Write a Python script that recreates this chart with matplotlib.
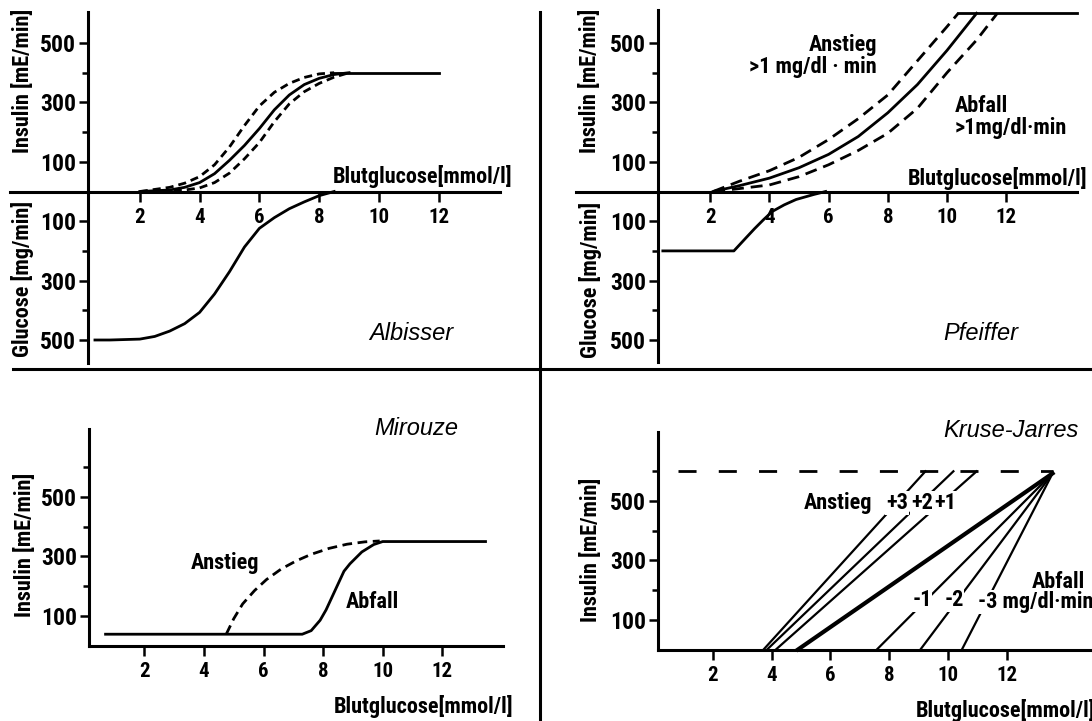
import matplotlib
matplotlib.use("Agg")
import matplotlib.pyplot as plt
import matplotlib.font_manager as fm
from matplotlib.lines import Line2D

W, H = 1092, 721

# pick a narrow bold face if one is installed, like the condensed type in the scan
installed = [(f.name, f.stretch) for f in fm.fontManager.ttflist]
prefs = ["Liberation Sans Narrow", "Roboto Condensed", "Open Sans Condensed",
         "DejaVu Sans Condensed"]
NARROW = None
for name in prefs:
    if any(n == name for n, _ in installed):
        NARROW = (name, "normal")
        break
if NARROW is None and any(n == "DejaVu Sans" and s == "condensed" for n, s in installed):
    NARROW = ("DejaVu Sans", "condensed")
if NARROW is None:
    NARROW = ("Liberation Sans", "normal")

plt.rcParams["font.family"] = [NARROW[0], "DejaVu Sans"]
plt.rcParams["font.stretch"] = NARROW[1]
plt.rcParams["font.weight"] = "bold"
plt.rcParams["lines.scale_dashes"] = False
SHRINK = 1.0 if NARROW[0] != "Liberation Sans" else 0.88

# Albisser: insulin (three curves) and glucose infusion
alb_x = [2.0, 3.0, 3.5, 4.0, 4.5, 5.0, 5.5, 6.0, 6.5, 7.0, 7.5, 8.0, 8.5, 9.0]
alb_ins = [0, 5, 14, 30, 60, 105, 155, 212, 275, 325, 360, 381, 394, 400]
alb_hi_x = [2.0, 3.0, 3.5, 4.0, 4.5, 5.0, 5.5, 6.0, 6.5, 7.0, 7.5, 8.0, 8.5]
alb_hi = [0, 14, 28, 50, 90, 150, 222, 288, 334, 364, 384, 396, 400]
alb_lo_x = [2.7, 3.5, 4.0, 4.5, 5.0, 5.5, 6.0, 6.5, 7.0, 7.5, 8.0, 8.5, 9.0]
alb_lo = [0, 5, 12, 30, 62, 110, 165, 235, 295, 336, 364, 385, 400]
alb_plateau_x = [8.5, 12.0]
alb_plateau = [400, 400]
alb_glu_x = [0.5, 1.0, 2.0, 2.5, 3.0, 3.5, 4.0, 4.5, 5.0, 5.5, 6.0, 6.5, 7.0, 7.5, 8.0, 8.5]
alb_glu = [500, 500, 497, 488, 470, 445, 407, 345, 270, 187, 124, 88, 58, 35, 14, 0]

# Pfeiffer
pf_x = [2.1, 3.0, 4.0, 5.0, 6.0, 7.0, 8.0, 9.0, 10.0, 11.0]
pf_ins = [0, 20, 45, 80, 125, 185, 265, 360, 475, 600]
pf_hi_x = [2.1, 3.0, 4.0, 5.0, 6.0, 7.0, 8.0, 9.0, 10.0, 10.38]
pf_hi = [0, 35, 70, 115, 175, 245, 325, 440, 555, 600]
pf_lo_x = [2.1, 3.0, 4.0, 5.0, 6.0, 7.0, 8.0, 9.0, 10.0, 11.0, 11.7]
pf_lo = [0, 10, 22, 50, 90, 138, 196, 280, 400, 510, 600]
pf_plateau_x = [10.38, 14.4]
pf_plateau = [600, 600]
pf_glu_x = [0.4, 2.8, 3.2, 3.5, 3.8, 4.1, 4.5, 4.9, 5.5, 5.9]
pf_glu = [200, 200, 157, 125, 95, 67, 45, 27, 10, 0]

# Mirouze
mir_up_x = [4.75, 5.0, 5.3, 5.7, 6.1, 6.6, 7.1, 7.6, 8.2, 8.8, 9.4, 9.9]
mir_up = [38, 90, 140, 185, 222, 258, 285, 307, 327, 341, 349, 352]
mir_down_x = [0.7, 7.3, 7.6, 7.9, 8.1, 8.4, 8.7, 8.9, 9.3, 9.7, 10.0, 13.45]
mir_down = [38, 38, 50, 85, 120, 185, 250, 275, 315, 340, 350, 350]

# Kruse-Jarres
kj_cap = 600
kj_cap_start = 0.81
kj_apex = (13.55, 593)
kj_rise_start = [3.73, 3.85, 4.15]
kj_rise_top = [9.23, 10.18, 10.97]
kj_rise_labels = ["+3", "+2", "+1"]
kj_fall_bottom = [7.58, 9.06, 10.47]
kj_main_start = 4.9

x_ticks = [2, 4, 6, 8, 10, 12]


def px_text(fig, x, y, s, **kw):
    kw["fontsize"] = kw.get("fontsize", 16) * SHRINK
    return fig.text(x / W, 1 - y / H, s, **kw)


def italic_text(fig, x, y, s):
    return fig.text(x / W, 1 - y / H, s, ha="left", va="center", style="italic",
                    weight="normal", stretch="normal", fontsize=17,
                    family=["Liberation Sans", "DejaVu Sans"])


def make_panel(fig, x0px, xs, y0px, ys, yaxis_x, ybounds, xbounds, split):
    ax = fig.add_axes([0, 0, 1, 1])
    ax.set_xlim(-x0px / xs, (W - x0px) / xs)
    ax.set_ylim(-(H - y0px) / ys, y0px / ys)
    ax.patch.set_visible(False)
    ax.spines["top"].set_visible(False)
    ax.spines["right"].set_visible(False)
    ax.spines["left"].set_position(("data", yaxis_x))
    ax.spines["left"].set_bounds(*ybounds)
    ax.spines["bottom"].set_position(("data", 0))
    ax.spines["bottom"].set_bounds(*xbounds)
    for sp in ("left", "bottom"):
        ax.spines[sp].set_linewidth(2.2)
    ax.set_xticks(x_ticks)
    ax.set_xticklabels([str(t) for t in x_ticks])
    if split:
        major = [500, 300, 100, -100, -300, -500]
        minor = [400, 200, -200, -400]
    else:
        major = [500, 300, 100]
        minor = [600, 400, 200]
    ax.set_yticks(major)
    ax.set_yticklabels([str(abs(v)) for v in major])
    ax.set_yticks(minor, minor=True)
    ax.tick_params(axis="x", direction="out", length=7, width=1.8, pad=5,
                   labelsize=15 * SHRINK)
    ax.tick_params(axis="y", which="major", direction="out", length=6.5, width=1.8,
                   pad=2, labelsize=17 * SHRINK)
    ax.tick_params(axis="y", which="minor", direction="out", length=4.5, width=1.8)
    return ax


fig = plt.figure(figsize=(W / 100, H / 100), dpi=100)

# frame separators
fig.add_artist(Line2D([13 / W, 1], [1 - 369 / H] * 2, transform=fig.transFigure,
                      color="black", lw=2.2))
fig.add_artist(Line2D([540 / W] * 2, [1 - 12 / H, 0], transform=fig.transFigure,
                      color="black", lw=2.2))

lw = 2.0
white_box = dict(facecolor="white", edgecolor="none", pad=0.5)

# --- Albisser ---
ax1 = make_panel(fig, 80, 29.9, 191.5, 0.297, 0.26, (-577, 604), (-2.34, 14.05), True)
ax1.plot(alb_x, alb_ins, color="black", lw=lw)
ax1.plot(alb_plateau_x, alb_plateau, color="black", lw=lw)
ax1.plot(alb_hi_x, alb_hi, color="black", lw=lw, ls=(0, (5.8, 3.6)))
ax1.plot(alb_lo_x, alb_lo, color="black", lw=lw, ls=(0, (5.8, 3.6)))
ax1.plot(alb_glu_x, [-v for v in alb_glu], color="black", lw=lw)
px_text(fig, 512, 177, "Blutglucose[mmol/l]", ha="right", va="center")
italic_text(fig, 369, 333, "Albisser")
px_text(fig, 23, 81, "Insulin [mE/min]", rotation=90, ha="center", va="center")
px_text(fig, 23, 279, "Glucose [mg/min]", rotation=90, ha="center", va="center")

# --- Pfeiffer ---
ax2 = make_panel(fig, 651, 29.6, 191.5, 0.297, 0.23, (-574, 611), (-2.53, 14.4), True)
ax2.plot(pf_x, pf_ins, color="black", lw=lw)
ax2.plot(pf_plateau_x, pf_plateau, color="black", lw=lw)
ax2.plot(pf_hi_x, pf_hi, color="black", lw=lw, ls=(0, (8.6, 5)))
ax2.plot(pf_lo_x, pf_lo, color="black", lw=lw, ls=(0, (8.6, 5)))
ax2.plot(pf_glu_x, [-v for v in pf_glu], color="black", lw=lw)
px_text(fig, 1087, 178, "Blutglucose[mmol/l]", ha="right", va="center")
px_text(fig, 877, 45, "Anstieg", ha="right", va="center")
px_text(fig, 877, 67, ">1 mg/dl · min", ha="right", va="center")
px_text(fig, 955, 106, "Abfall", ha="left", va="center")
px_text(fig, 955, 128, ">1mg/dl·min", ha="left", va="center")
italic_text(fig, 943, 333, "Pfeiffer")
px_text(fig, 590, 81, "Insulin [mE/min]", rotation=90, ha="center", va="center")
px_text(fig, 590, 280, "Glucose [mg/min]", rotation=90, ha="center", va="center")

# --- Mirouze ---
ax3 = make_panel(fig, 84.7, 29.8, 645.5, 0.297, 0.15, (0, 728), (0.15, 14.04), False)
ax3.plot(mir_down_x, mir_down, color="black", lw=lw)
ax3.plot(mir_up_x, mir_up, color="black", lw=lw, ls=(0, (7, 4)))
italic_text(fig, 374, 429, "Mirouze")
px_text(fig, 191, 563, "Anstieg", ha="left", va="center")
px_text(fig, 346, 602, "Abfall", ha="left", va="center")
px_text(fig, 513, 706, "Blutglucose[mmol/l]", ha="right", va="center")
px_text(fig, 25, 545, "Insulin [mE/min]", rotation=90, ha="center", va="center")

# --- Kruse-Jarres ---
ax4 = make_panel(fig, 653.8, 29.43, 649.5, 0.297, 0.13, (0, 733), (0.13, 14.9), False)
ax4.plot([kj_cap_start, kj_apex[0]], [kj_cap, kj_cap], color="black", lw=2.0,
         ls=(0, (13, 16)))
for x0, x1 in zip(kj_rise_start, kj_rise_top):
    ax4.plot([x0, x1], [0, kj_cap], color="black", lw=1.6)
for xb in kj_fall_bottom:
    ax4.plot([xb, kj_apex[0]], [0, kj_apex[1]], color="black", lw=1.6)
ax4.plot([kj_main_start, kj_apex[0]], [0, kj_apex[1]], color="black", lw=3.0)
italic_text(fig, 943, 431, "Kruse-Jarres")
px_text(fig, 804, 503, "Anstieg", ha="left", va="center")
for lab, xc in zip(kj_rise_labels, [897, 922, 945]):
    px_text(fig, xc, 503, lab, ha="center", va="center", bbox=white_box)
for lab, xc in zip(["-1", "-2"], [922, 954]):
    px_text(fig, xc, 600, lab, ha="center", va="center", bbox=white_box)
px_text(fig, 978, 602, "-3 mg/dl·min", ha="left", va="center", bbox=white_box)
px_text(fig, 1032, 582, "Abfall", ha="left", va="center")
px_text(fig, 916, 710, "Blutglucose[mmol/l]", ha="left", va="center")
px_text(fig, 591, 550, "Insulin [mE/min]", rotation=90, ha="center", va="center")

fig.savefig("out.png", dpi=100, facecolor="white")
